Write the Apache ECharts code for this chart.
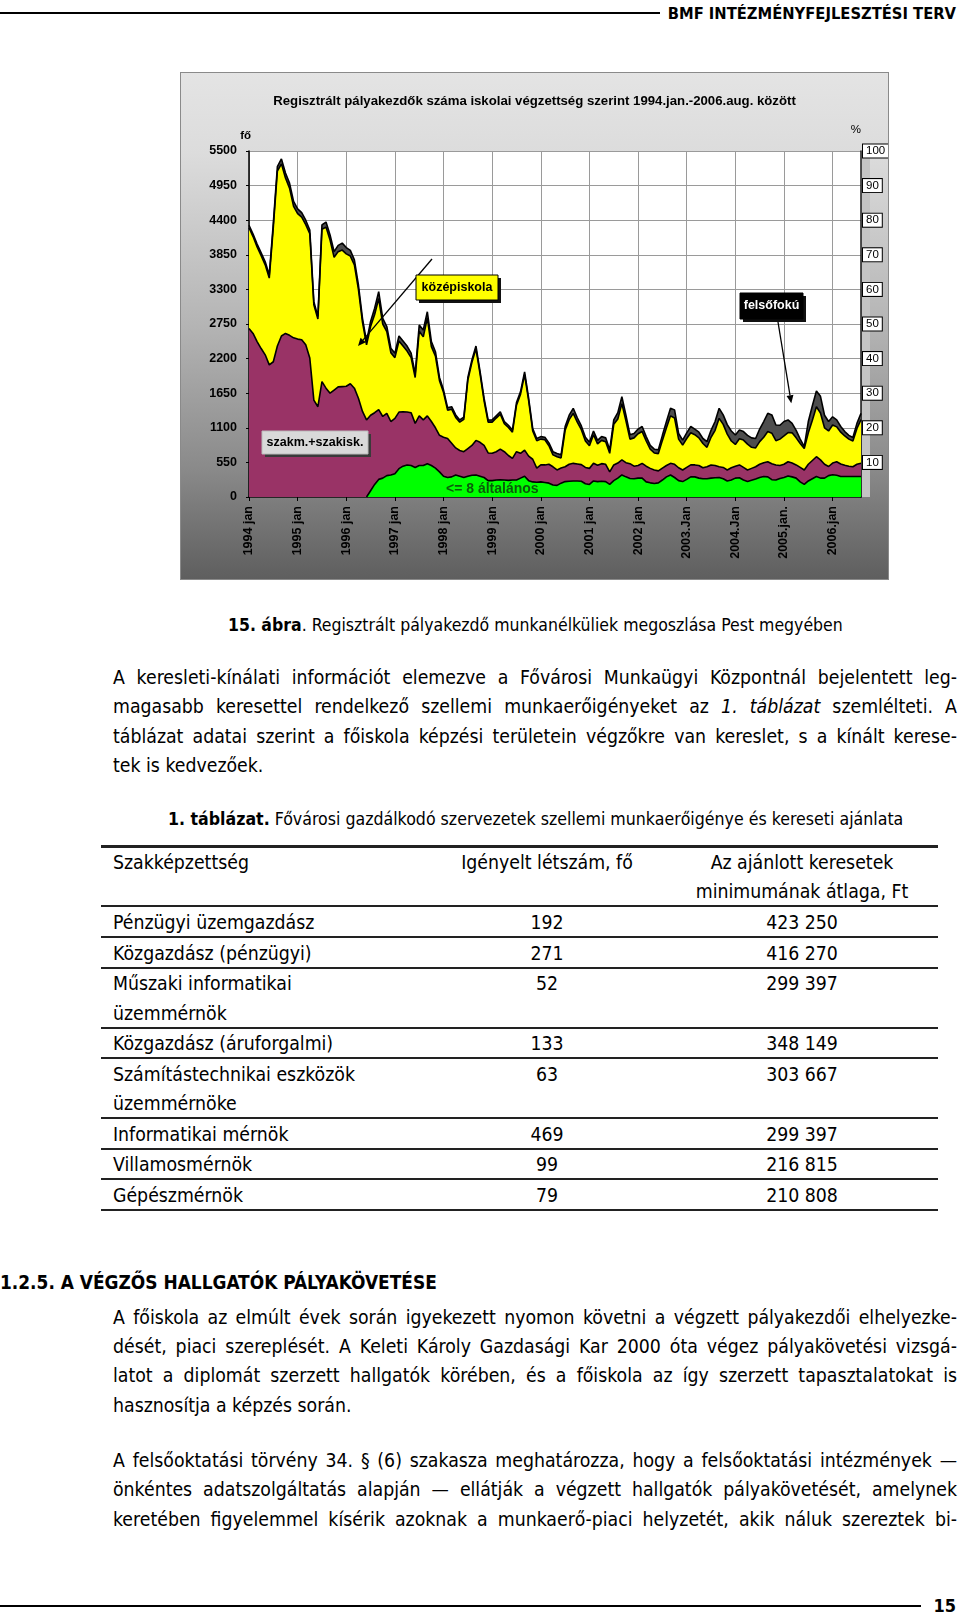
<!DOCTYPE html>
<html><head><meta charset="utf-8">
<script src="https://cdn.jsdelivr.net/npm/echarts@6/dist/echarts.min.js"></script>
<style>
body{margin:0;width:960px;height:1616px;position:relative;background:#fff;overflow:hidden;
 font-family:"DejaVu Sans Condensed","DejaVu Sans",sans-serif;font-stretch:condensed;color:#000}
.t{position:absolute;white-space:nowrap;line-height:30px;height:30px;font-size:19.3px}
.j{left:113px;width:844px;text-align:left}
.r{position:absolute;left:101px;width:837px;height:2px;background:#222}
.b{font-weight:bold}
#wrap{position:absolute;left:180px;top:72px;width:709px;height:508px;
 background:linear-gradient(to bottom,#e4e4e4 0%,#dcdcdc 16%,#b4b4b4 50%,#8a8a8a 78%,#5e5e5e 100%)}
#chart{position:absolute;left:0;top:0;width:709px;height:508px}
#frame{position:absolute;left:180px;top:72px;width:707px;height:506px;border:1px solid #8a8a8a;pointer-events:none}
</style></head><body>
<div style="position:absolute;left:0;top:12px;width:660px;height:2px;background:#000"></div>
<div class="t b" style="right:4px;top:-1px;font-size:16.4px">BMF INTÉZMÉNYFEJLESZTÉSI TERV</div>

<div id="wrap"><div id="chart"></div></div>
<div id="frame"></div>

<div class="t" style="left:228px;top:610px;font-size:17.5px"><span class="b">15. ábra</span>. Regisztrált pályakezdő munkanélküliek megoszlása Pest megyében</div>

<div class="t j" style="top:663px">A keresleti-kínálati információt elemezve a Fővárosi Munkaügyi Központnál bejelentett leg-</div>
<div class="t j" style="top:692px">magasabb keresettel rendelkező szellemi munkaerőigényeket az <i>1. táblázat</i> szemlélteti. A</div>
<div class="t j" style="top:722px">táblázat adatai szerint a főiskola képzési területein végzőkre van kereslet, s a kínált kerese-</div>
<div class="t" style="left:113px;top:751px">tek is kedvezőek.</div>

<div class="t" style="left:168px;top:804px;font-size:17.6px"><span class="b">1. táblázat.</span> Fővárosi gazdálkodó szervezetek szellemi munkaerőigénye és kereseti ajánlata</div>

<div class="r" style="top:845px;height:3px"></div>
<div id="table"></div>

<div class="t b" style="left:0;top:1267px;font-size:18.9px">1.2.5. A VÉGZŐS HALLGATÓK PÁLYAKÖVETÉSE</div>

<div class="t j" style="top:1303px">A főiskola az elmúlt évek során igyekezett nyomon követni a végzett pályakezdői elhelyezke-</div>
<div class="t j" style="top:1332px">dését, piaci szereplését. A Keleti Károly Gazdasági Kar 2000 óta végez pályakövetési vizsgá-</div>
<div class="t j" style="top:1361px">latot a diplomát szerzett hallgatók körében, és a főiskola az így szerzett tapasztalatokat is</div>
<div class="t" style="left:113px;top:1391px">hasznosítja a képzés során.</div>

<div class="t j" style="top:1446px">A felsőoktatási törvény 34. § (6) szakasza meghatározza, hogy a felsőoktatási intézmények —</div>
<div class="t j" style="top:1475px">önkéntes adatszolgáltatás alapján — ellátják a végzett hallgatók pályakövetését, amelynek</div>
<div class="t j" style="top:1505px">keretében figyelemmel kísérik azoknak a munkaerő-piaci helyzetét, akik náluk szereztek bi-</div>

<div style="position:absolute;left:0;top:1605px;width:921px;height:2px;background:#000"></div>
<div class="t b" style="right:4px;top:1591px;font-size:18px">15</div>

<script>
// ---------- chart data ----------
const chartTitle = 'Regisztrált pályakezdők száma iskolai végzettség szerint 1994.jan.-2006.aug. között';
const yearLabels = ['1994 jan','1995 jan','1996 jan','1997 jan','1998 jan','1999 jan','2000 jan',
  '2001 jan','2002 jan','2003.Jan','2004.Jan','2005.jan.','2006.jan'];
const monthNames = ['jan','feb','már','ápr','máj','jún','júl','aug','szep','okt','nov','dec'];
const lastMonthIndex = 7; // 2006 aug

// top edge of the whole stack (felsőfokú top)
const totalTop = [
 4320,4180,4020,3880,3740,3530,4350,5250,5375,5150,4990,4700,
 4580,4520,4400,4245,3105,2870,4325,4370,4165,3900,4000,4035,
 3965,3920,3770,3370,2840,2470,2790,3000,3265,2840,2710,2365,
 2285,2560,2480,2400,2285,1960,2735,2655,2945,2470,2310,1900,
 1700,1420,1435,1305,1225,1270,1900,2180,2400,2000,1570,1225,
 1225,1290,1355,1200,1140,1065,1500,1675,1990,1570,1090,930,
 960,950,860,720,690,670,1120,1300,1410,1260,1130,950,
 870,1050,900,960,940,750,1225,1340,1595,1300,990,1010,
 1080,1120,960,820,760,750,980,1200,1410,1385,1010,905,
 1020,1120,1080,1030,930,880,1060,1200,1410,1305,1150,1050,
 985,1065,1040,980,940,930,1080,1200,1330,1305,1145,1140,
 1200,1225,1170,1060,920,800,1200,1450,1685,1600,1300,1200,
 1275,1225,1120,1040,980,945,1170,1330];
// top edge of középiskola
const yellowTop = [
 4280,4140,3975,3835,3690,3480,4290,5180,5295,5070,4910,4620,
 4505,4450,4330,4185,3055,2830,4255,4290,4085,3810,3900,3925,
 3865,3830,3690,3300,2780,2420,2710,2900,3155,2750,2630,2295,
 2215,2480,2400,2320,2215,1900,2635,2545,2845,2390,2240,1850,
 1660,1380,1395,1265,1190,1235,1860,2140,2355,1960,1530,1190,
 1190,1255,1315,1165,1105,1030,1460,1635,1945,1530,1050,895,
 920,910,815,670,640,620,1060,1230,1330,1190,1070,890,
 815,990,845,900,880,695,1155,1240,1485,1210,920,940,
 1005,1040,890,760,700,690,900,1100,1290,1255,920,825,
 930,1020,990,940,850,790,950,1060,1250,1155,1000,890,
 835,925,905,840,790,780,880,950,1040,1015,895,920,
 970,1025,1020,940,850,770,1020,1220,1435,1335,1100,1050,
 1145,1115,1030,970,920,890,1090,1230];
// top edge of szakm.+szakisk.
const maroonTop = [
 2680,2600,2470,2360,2260,2100,2150,2400,2560,2600,2570,2530,
 2510,2500,2420,2210,1540,1435,1835,1730,1650,1700,1750,1755,
 1760,1800,1730,1570,1360,1225,1300,1340,1390,1280,1330,1200,
 1250,1350,1355,1350,1340,1170,1290,1225,1290,1200,1100,980,
 950,930,855,780,740,720,770,820,900,870,820,700,
 695,720,760,720,660,615,720,695,745,650,600,460,
 510,510,520,480,430,460,480,520,535,525,515,470,
 455,535,505,530,520,400,510,540,590,545,530,490,
 500,535,490,455,430,415,460,500,535,520,465,430,
 470,510,510,500,465,480,510,500,480,470,430,465,
 490,510,470,430,455,480,520,545,560,530,510,500,
 520,560,540,510,470,430,520,580,640,590,520,485,
 540,560,525,505,490,480,520,535];
// top edge of <= 8 általános
const greenTop = [
 null,null,null,null,null,null,null,null,null,null,null,null,
 null,null,null,null,null,null,null,null,null,null,null,null,
 null,null,null,null,null,0,100,200,280,300,340,350,
 370,450,490,510,500,470,500,500,530,500,460,400,
 330,310,320,350,330,310,330,345,350,330,310,260,
 260,270,275,270,265,270,270,300,330,260,240,235,
 240,230,220,190,185,220,245,250,255,255,250,210,
 200,255,245,250,245,200,260,300,350,320,295,290,
 300,300,240,225,215,225,270,320,350,310,260,245,
 280,320,320,300,290,290,300,305,310,290,255,270,
 300,305,270,245,265,285,310,325,320,275,270,295,
 310,335,320,300,240,200,255,290,325,300,300,340,
 355,345,325,325,325,325,325,325];

// ---------- table data ----------
const tableHeader = ['Szakképzettség','Igényelt létszám, fő','Az ajánlott keresetek','minimumának átlaga, Ft'];
const rowNames = [['Pénzügyi üzemgazdász'],['Közgazdász (pénzügyi)'],['Műszaki informatikai','üzemmérnök'],
  ['Közgazdász (áruforgalmi)'],['Számítástechnikai eszközök','üzemmérnöke'],['Informatikai mérnök'],
  ['Villamosmérnök'],['Gépészmérnök']];
const rowCounts = ['192','271','52','133','63','469','99','79'];
const rowWages = ['423 250','416 270','299 397','348 149','303 667','299 397','216 815','210 808'];

// build table (layout)
(function(){
  const t = document.getElementById('table');
  let h = '';
  const txt = (x, y, s, center) => center
    ? `<div class="t" style="left:${x-150}px;width:300px;text-align:center;top:${y-15}px">${s}</div>`
    : `<div class="t" style="left:${x}px;top:${y-15}px">${s}</div>`;
  h += txt(113, 863, tableHeader[0]) + txt(547, 863, tableHeader[1], true) +
       txt(802, 863, tableHeader[2], true) + txt(802, 892, tableHeader[3], true);
  h += '<div class="r" style="top:905px"></div>';
  let y = 923;
  rowNames.forEach((nm, i) => {
    h += txt(113, y, nm[0]) + txt(547, y, rowCounts[i], true) + txt(802, y, rowWages[i], true);
    if (nm[1]) { h += txt(113, y + 29.5, nm[1]); y += 29.5; }
    h += `<div class="r" style="top:${Math.round(y + 13)}px"></div>`;
    y += 30.5;
  });
  t.innerHTML = h;
})();

// justify each full line to 844px by adjusting word spacing (never wraps)
document.querySelectorAll('.j').forEach(d => {
  const sp = document.createElement('span');
  sp.innerHTML = d.innerHTML; d.innerHTML = ''; d.appendChild(sp);
  const w = sp.getBoundingClientRect().width;
  const n = (d.textContent.match(/ /g) || []).length;
  if (n) d.style.wordSpacing = ((844 - w) / n) + 'px';
});

// ---------- chart ----------
const months = [];
yearLabels.forEach((lab, yi) => {
  const yr = 1994 + yi;
  const n = (yi === yearLabels.length - 1) ? lastMonthIndex + 1 : 12;
  for (let m = 0; m < n; m++) months.push(yr + ' ' + monthNames[m]);
});

const F = 'Liberation Sans, Arial, sans-serif';
const isJan = (i) => i % 12 === 0;
const lineSeries = (name, data, color) => ({
  name, type: 'line', data, symbol: 'none', smooth: false, connectNulls: false,
  lineStyle: { color: '#000', width: 1.6 },
  areaStyle: { color, opacity: 1 },
  emphasis: { disabled: true }
});

function arrow(x1, y1, x2, y2) {
  const dx = x2 - x1, dy = y2 - y1, L = Math.hypot(dx, dy), ux = dx / L, uy = dy / L;
  const bx = x2 - 8 * ux, by = y2 - 8 * uy, nx = -uy, ny = ux;
  return [
    { type: 'line', shape: { x1, y1, x2: bx, y2: by }, style: { stroke: '#000', lineWidth: 1.3 }, z: 100 },
    { type: 'polygon', shape: { points: [[x2, y2], [bx + 3.5 * nx, by + 3.5 * ny], [bx - 3.5 * nx, by - 3.5 * ny]] },
      style: { fill: '#000' }, z: 100 }
  ];
}
function box(x, y, w, h, fill, shadow, stroke, text, color) {
  return [
    { type: 'rect', shape: { x: x + 3, y: y + 3, width: w, height: h }, style: { fill: shadow }, z: 100 },
    { type: 'rect', shape: { x, y, width: w, height: h }, style: { fill, stroke, lineWidth: 1 }, z: 101 },
    { type: 'text', x: x + w / 2, y: y + h / 2, style: { text, fill: color, font: 'bold 12.5px ' + F,
      align: 'center', verticalAlign: 'middle' }, z: 102 }
  ];
}

const chart = echarts.init(document.getElementById('chart'), null, { renderer: 'canvas' });
chart.setOption({
  animation: false,
  backgroundColor: 'transparent',
  title: { text: chartTitle, left: 'center', top: 18,
    textStyle: { fontFamily: F, fontWeight: 'bold', fontSize: 13.2, color: '#000' } },
  grid: { left: 69, right: 28, top: 79, bottom: 83, show: true, backgroundColor: '#fff',
    borderWidth: 0, containLabel: false, outerBoundsMode: 'none' },
  xAxis: {
    type: 'category', data: months, boundaryGap: false,
    axisLine: { lineStyle: { color: '#000', width: 1.5 } },
    axisTick: { show: true, interval: (i) => isJan(i), length: 4, lineStyle: { color: '#000' } },
    axisLabel: { interval: (i) => isJan(i), rotate: 90, margin: 9,
      formatter: (v, i) => yearLabels[Math.floor(i / 12)],
      fontFamily: F, fontWeight: 'bold', fontSize: 12.5, color: '#000' },
    splitLine: { show: true, interval: (i) => isJan(i), lineStyle: { color: '#9a9a9a', width: 1 } }
  },
  yAxis: [{
    type: 'value', min: 0, max: 5500, interval: 550,
    name: 'fő', nameLocation: 'end', nameGap: 9,
    nameTextStyle: { fontFamily: F, fontWeight: 'bold', fontSize: 11.5, color: '#000', align: 'right', padding: [0, -2, 0, 0] },
    axisLine: { show: true, lineStyle: { color: '#000', width: 1.5 } },
    axisTick: { show: true, length: 3, lineStyle: { color: '#000' } },
    axisLabel: { margin: 12, fontFamily: F, fontWeight: 'bold', fontSize: 12.5, color: '#000',
      formatter: (v) => String(v) },
    splitLine: { show: true, lineStyle: { color: '#9a9a9a', width: 1 } }
  }, {
    type: 'value', min: 0, max: 100, interval: 10, position: 'right',
    name: '%', nameLocation: 'end', nameGap: 15,
    nameTextStyle: { fontFamily: F, fontSize: 11.5, color: '#000', align: 'right' },
    axisLine: { show: true, lineStyle: { color: '#1a1a1a', width: 1.5 } },
    axisTick: { show: false },
    axisLabel: { margin: 2, fontFamily: F, fontSize: 11.5, color: '#000', showMinLabel: false,
      formatter: (v) => String(v),
      backgroundColor: '#fff', borderColor: '#000', borderWidth: 1, padding: [1, 3, 0, 3] },
    splitLine: { show: false }
  }],
  series: [
    lineSeries('felsőfokú', totalTop, '#4d4d4d'),
    lineSeries('középiskola', yellowTop, '#ffff00'),
    lineSeries('szakm.+szakisk.', maroonTop, '#993366'),
    lineSeries('<= 8 általános', greenTop, '#00ff00')
  ],
  graphic: [
    { type: 'rect', shape: { x: 682, y: 79, width: 8, height: 346 }, style: { fill: '#c4c4c4' }, z: -1, silent: true },
    ...arrow(252, 187, 178, 274),
    ...box(236, 203, 82, 25, '#ffff00', '#111', '#000', 'középiskola', '#000'),
    ...arrow(598, 250, 611.3, 331.3),
    ...box(560, 221, 63, 26, '#000', '#111', '#000', 'felsőfokú', '#fff'),
    ...box(82, 359, 106, 23, '#d9d9d9', '#3a3a3a', '#bbb', 'szakm.+szakisk.', '#000'),
    { type: 'text', x: 266, y: 417, style: { text: '<= 8 általános', fill: '#0b5a0b',
      font: 'bold 14px ' + F, align: 'left', verticalAlign: 'middle' }, z: 100 }
  ]
});
</script>
</body></html>
